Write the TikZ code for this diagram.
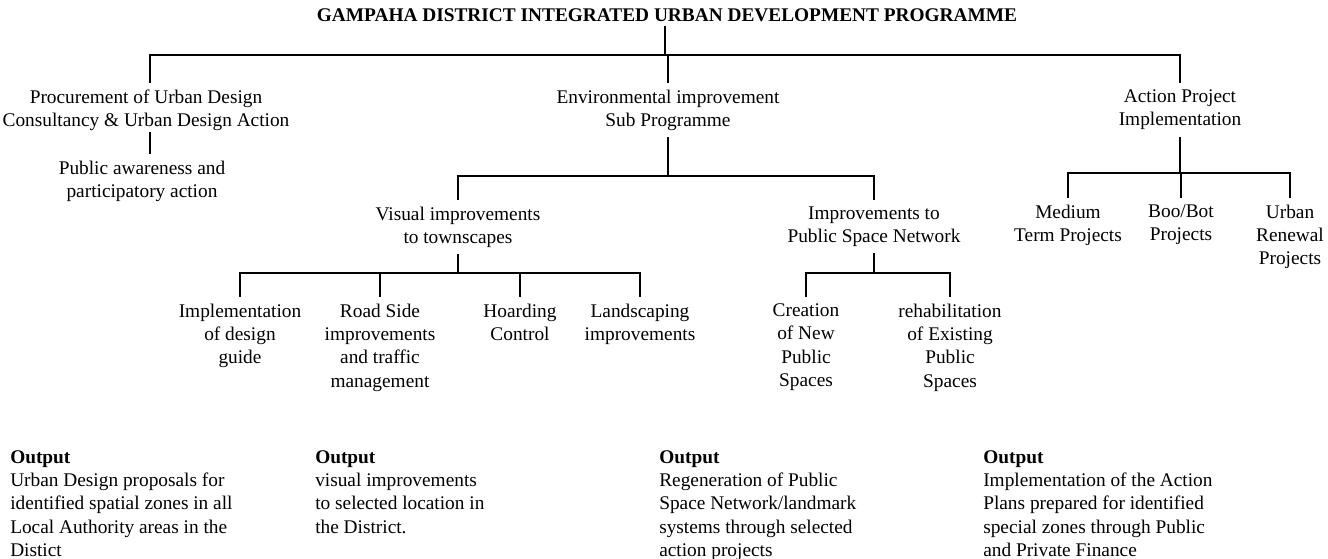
\documentclass[tikz,border=0pt]{standalone}
\usepackage{fontspec}
\setmainfont{Liberation Serif}
\begin{document}
\begin{tikzpicture}[x=0.75pt,y=-0.75pt]
\tikzset{
  lbl/.style={align=center, anchor=north, inner sep=0pt, outer ysep=5pt,
    font=\fontsize{14.5}{17.5}\selectfont},
  link/.style={line width=1.3pt},
  outbox/.style={align=left, anchor=north west, inner sep=0pt,
    font=\fontsize{14.5}{17.5}\selectfont}
}
\useasboundingbox (0,0) rectangle (1328,558);

% Programme title
\node[font=\fontsize{14.5}{17.5}\selectfont\bfseries, inner sep=0pt, outer ysep=3pt] (gam) at (667,15)
  {GAMPAHA DISTRICT INTEGRATED URBAN DEVELOPMENT PROGRAMME};
\coordinate (bar0) at (665,55);
\draw[link] (gam.south -| bar0) -- (bar0);

% first level
\coordinate (procl) at (150,83);
\node[lbl] (proc) at ([xshift=-3pt]procl) {Procurement of Urban Design\\Consultancy \& Urban Design Action};
\node[lbl] (env) at (668,83) {Environmental improvement\\Sub Programme};
\node[lbl] (act) at (1180,83) {Action Project\\Implementation};
\draw[link] (procl) |- (bar0) -| (act.north);
\draw[link] (env.north) -- (env.north |- bar0);

% procurement branch
\coordinate (publ) at (150,154);
\node[lbl] (pub) at ([xshift=-6pt]publ) {Public awareness and\\participatory action};
\draw[link] ([yshift=4pt]proc.south -| publ) -- (publ);

% environmental branch
\coordinate (bar1) at (668,176);
\node[lbl] (vis) at (458,200) {Visual improvements\\to townscapes};
\node[lbl] (ips) at (874,200) {Improvements to\\Public Space Network};
\draw[link] (env.south) -- (bar1);
\draw[link] (vis.north) |- (bar1) -| (ips.north);

% visual improvements
\coordinate (bar2) at (458,273);
\node[lbl] (dg) at (240,297) {Implementation\\of design\\guide};
\node[lbl] (rs) at (380,297) {Road Side\\improvements\\and traffic\\management};
\node[lbl] (hc) at (520,297) {Hoarding\\Control};
\node[lbl] (ls) at (640,297) {Landscaping\\improvements};
\draw[link] (vis.south) -- (bar2);
\draw[link] (dg.north) |- (bar2) -| (ls.north);
\draw[link] (rs.north) -- (rs.north |- bar2);
\draw[link] (hc.north) -- (hc.north |- bar2);

% public space network
\coordinate (bar3) at (874,273);
\node[lbl] (cn) at (806,297) {Creation\\of New\\Public\\Spaces};
\node[lbl] (re) at (950,297) {rehabilitation\\of Existing\\Public\\Spaces};
\draw[link] (ips.south) -- (bar3);
\draw[link] (cn.north) |- (bar3) -| (re.north);

% action projects
\coordinate (bar4) at (1180,173);
\node[lbl] (mt) at (1068,198) {Medium\\Term Projects};
\node[lbl] (bb) at (1181,198) {Boo/Bot\\Projects};
\node[lbl] (ur) at (1290,198) {Urban\\Renewal\\Projects};
\draw[link] (act.south) -- (bar4);
\draw[link] (mt.north) |- (bar4) -| (ur.north);
\draw[link] (bb.north) -- (bb.north |- bar4);

% outputs
\node[outbox] (o1) at (10,450) {\textbf{Output}\\Urban Design proposals for\\identified spatial zones in all\\Local Authority areas in the\\Distict};
\node[outbox] (o2) at (315,450) {\textbf{Output}\\visual improvements\\to selected location in\\the District.};
\node[outbox] (o3) at (659,450) {\textbf{Output}\\Regeneration of Public\\Space Network/landmark\\systems through selected\\action projects};
\node[outbox] (o4) at (983,450) {\textbf{Output}\\Implementation of the Action\\Plans prepared for identified\\special zones through Public\\and Private Finance};
\end{tikzpicture}
\end{document}
